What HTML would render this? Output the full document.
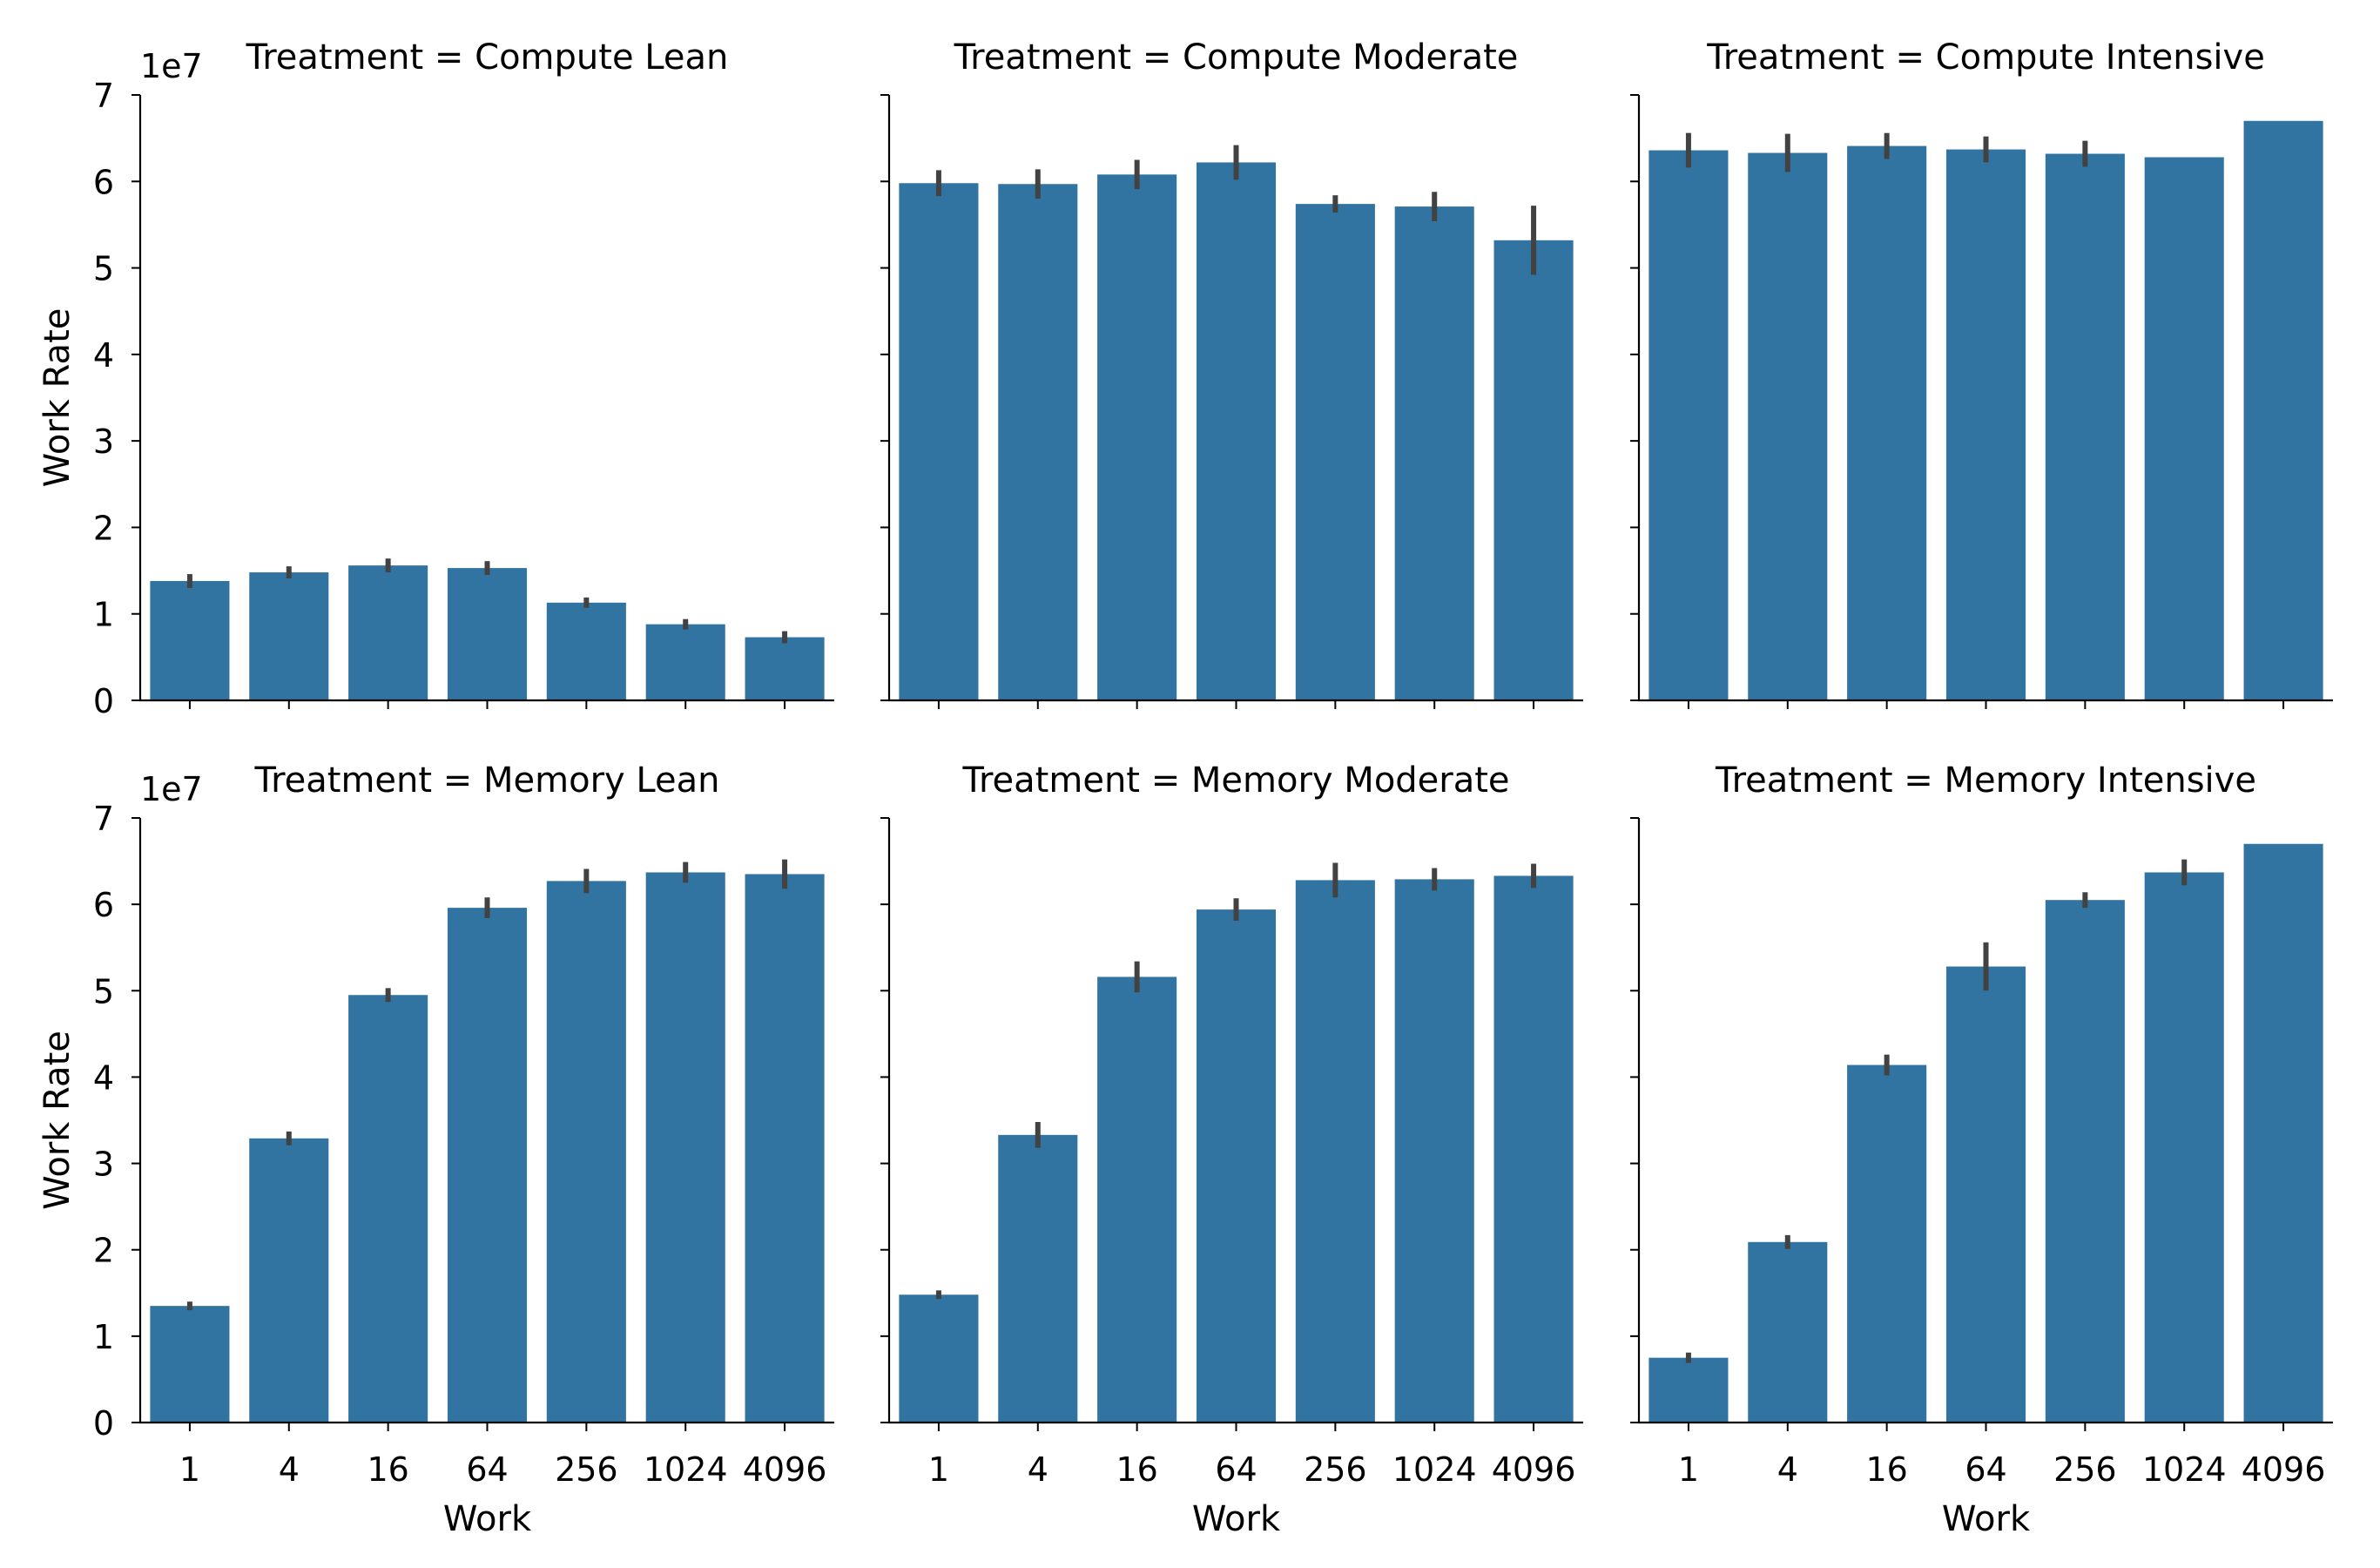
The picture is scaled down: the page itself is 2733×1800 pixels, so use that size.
<!DOCTYPE html>
<html><head><meta charset="utf-8"><style>
html,body{margin:0;padding:0;background:#fff;}
svg{display:block;font-family:"DejaVu Sans","Liberation Sans",sans-serif;}
</style></head><body>
<svg id="chart" width="2733" height="1800" viewBox="0 0 2733 1800" xmlns="http://www.w3.org/2000/svg"></svg>
<script>
const categories = ["1","4","16","64","256","1024","4096"];
const panelTitles = ["Compute Lean","Compute Moderate","Compute Intensive","Memory Lean","Memory Moderate","Memory Intensive"];
const yTicks = [0,1,2,3,4,5,6,7];
const computeLean = [1.38,1.48,1.56,1.53,1.13,0.88,0.73];
const computeLeanErr = [0.08,0.07,0.08,0.08,0.06,0.06,0.07];
const computeModerate = [5.98,5.97,6.08,6.22,5.74,5.71,5.32];
const computeModerateErr = [0.15,0.17,0.17,0.2,0.1,0.17,0.4];
const computeIntensive = [6.36,6.33,6.41,6.37,6.32,6.28,6.70];
const computeIntensiveErr = [0.2,0.22,0.15,0.15,0.15,0,0];
const memoryLean = [1.35,3.29,4.95,5.96,6.27,6.37,6.35];
const memoryLeanErr = [0.05,0.08,0.08,0.12,0.14,0.12,0.17];
const memoryModerate = [1.48,3.33,5.16,5.94,6.28,6.29,6.33];
const memoryModerateErr = [0.05,0.15,0.18,0.13,0.2,0.13,0.14];
const memoryIntensive = [0.75,2.09,4.14,5.28,6.05,6.37,6.70];
const memoryIntensiveErr = [0.06,0.08,0.12,0.28,0.09,0.15,0];
const seriesValues = [computeLean,computeModerate,computeIntensive,memoryLean,memoryModerate,memoryIntensive];
const seriesErrors = [computeLeanErr,computeModerateErr,computeIntensiveErr,memoryLeanErr,memoryModerateErr,memoryIntensiveErr];

const NS="http://www.w3.org/2000/svg";
const svg=document.getElementById('chart');
function mk(tag,attrs,parent){const e=document.createElementNS(NS,tag);for(const k in attrs)e.setAttribute(k,attrs[k]);(parent||svg).appendChild(e);return e;}
const colX=[[161,958],[1021,1818],[1882,2679]];
const rowY=[[109,804],[939,1633]];
const yMax=7;
for(let p=0;p<6;p++){
  const r=Math.floor(p/3),c=p%3;
  const [x0,x1]=colX[c],[yt,yb]=rowY[r];
  const g=mk('g',{});
  
  
  const yS=v=>yb-(v/yMax)*(yb-yt);
  const step=(x1-x0)/categories.length;
  const xS=i=>x0+step*(i+0.5);
  const bw=step*0.8;
  seriesValues[p].forEach((v,i)=>{
    const b=mk('rect',{x:xS(i)-bw/2,y:yS(v),width:bw,height:yb-yS(v),fill:'#3274a1'},g);
    
    
    const e=seriesErrors[p][i];
    if(e>0){
      const el=mk('line',{x1:xS(i),x2:xS(i),y1:yS(v+e),y2:yS(v-e),stroke:'#424242','stroke-width':6},g);
      
      
    }
  });
  mk('line',{x1:x0,x2:x0,y1:yt,y2:yb+1,stroke:'#000','stroke-width':2.2},g);
  mk('line',{x1:x0-1,x2:x1,y1:yb,y2:yb,stroke:'#000','stroke-width':2.2},g);
  yTicks.forEach(t=>{
    mk('line',{x1:x0-10,x2:x0,y1:yS(t),y2:yS(t),stroke:'#000','stroke-width':2},g);
    if(c===0){
      const tl=mk('text',{x:x0-30,y:yS(t)+14,'text-anchor':'end','font-size':38,fill:'#000'},g);
      tl.textContent=t;
      
      
    }
  });
  categories.forEach((cat,i)=>{
    mk('line',{x1:xS(i),x2:xS(i),y1:yb,y2:yb+10,stroke:'#000','stroke-width':2},g);
    if(r===1){
      const tl=mk('text',{x:xS(i),y:yb+67,'text-anchor':'middle','font-size':38,fill:'#000'},g);
      tl.textContent=cat;
      
      
    }
  });
  const tt=mk('text',{x:(x0+x1)/2,y:yt-30,'text-anchor':'middle','font-size':40,fill:'#000'},g);
  tt.textContent='Treatment = '+panelTitles[p];
  
  
  if(c===0){
    const off=mk('text',{x:x0,y:yt-20,'font-size':38,fill:'#000'},g);
    off.textContent='1e7';
    
    
    const yl=mk('text',{x:0,y:0,'text-anchor':'middle','font-size':40,fill:'#000',transform:`translate(79,${(yt+yb)/2}) rotate(-90)`},g);
    yl.textContent='Work Rate';
    
    
  }
  if(r===1){
    const xl=mk('text',{x:(x0+x1)/2,y:1757,'text-anchor':'middle','font-size':40,fill:'#000'},g);
    xl.textContent='Work';
    
    
  }
}
</script>
</body></html>
